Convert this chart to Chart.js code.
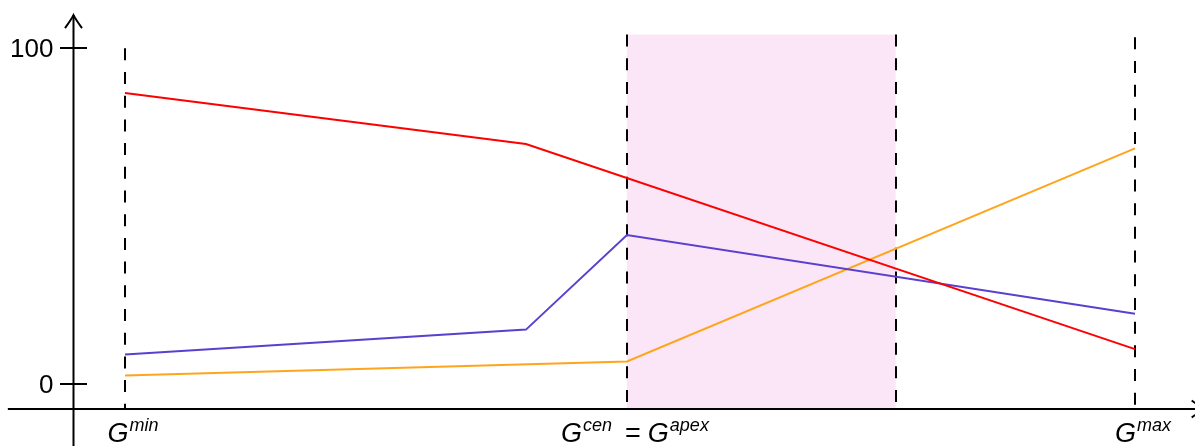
<!DOCTYPE html>
<html>
<head>
<meta charset="utf-8">
<script src="https://cdn.jsdelivr.net/npm/chart.js@4/dist/chart.umd.min.js"></script>
<style>
  html, body { margin: 0; padding: 0; background: #ffffff; }
  #wrap { width: 1195px; height: 446px; }
</style>
</head>
<body>
<div id="wrap"><canvas id="c" width="1195" height="446"></canvas></div>
<script>
// Series breakpoints (x in units of the G range, Gmin = 0, Gmax = 1) and values
const redX    = [0, 0.397, 1];
const redY    = [86.7, 71.5, 10.4];
const purpleX = [0, 0.397, 0.497, 1];
const purpleY = [8.8, 16.2, 44.4, 20.9];
const orangeX = [0, 0.497, 1];
const orangeY = [2.5, 6.7, 70.2];

// Reference positions along the G axis
const guideX    = [0, 0.497, 0.763, 1];
const guideTop  = [100, 104.1, 104.1, 103.3];
const bandRange = [0.497, 0.763];
const bandTop   = 104.1;

// Axis ticks and category labels
const yTickValues = [0, 100];
const yTickLabels = ['0', '100'];
const xLabelPos   = [0, 0.497, 1];
const xLabelParts = [
  [['G', 'min']],
  [['G', 'cen'], ['=', null], ['G', 'apex']],
  [['G', 'max']]
];

// Where the axes cross and how far their arrows reach
const yAxisAtX = -0.051;
const xAxisAtY = -7.45;
const yAxisTop = 109.9;
const xAxisLeft = -0.116;
const xAxisRight = 1.069;

const pts = (xs, ys) => xs.map((v, i) => ({ x: v, y: ys[i] }));

function arrowHead(ctx, tx, ty, dir) {
  // dir: 'up' or 'right'; curved head
  ctx.beginPath();
  if (dir === 'up') {
    ctx.moveTo(tx - 8.5, ty + 13);
    ctx.quadraticCurveTo(tx - 2, ty + 4, tx, ty);
    ctx.quadraticCurveTo(tx + 2, ty + 4, tx + 8.5, ty + 13);
  } else {
    ctx.moveTo(tx - 13, ty - 8.5);
    ctx.quadraticCurveTo(tx - 4, ty - 2, tx, ty);
    ctx.quadraticCurveTo(tx - 4, ty + 2, tx - 13, ty + 8.5);
  }
  ctx.stroke();
}

const decor = {
  id: 'decor',
  beforeDatasetsDraw(chart) {
    const { ctx, scales: { x, y } } = chart;
    const base = y.getPixelForValue(xAxisAtY);
    ctx.save();
    // shaded band
    const bx0 = x.getPixelForValue(bandRange[0]);
    const bx1 = x.getPixelForValue(bandRange[1]);
    const by0 = y.getPixelForValue(bandTop);
    ctx.fillStyle = '#fae6f7';
    ctx.fillRect(bx0, by0, bx1 - bx0, base - by0);
    // dashed guides
    ctx.strokeStyle = '#000000';
    ctx.lineWidth = 2;
    ctx.setLineDash([12, 11.7]);
    guideX.forEach((g, i) => {
      const px = Math.round(x.getPixelForValue(g));
      ctx.beginPath();
      ctx.moveTo(px, y.getPixelForValue(guideTop[i]));
      ctx.lineTo(px, base);
      ctx.stroke();
    });
    ctx.restore();
  },
  afterDatasetsDraw(chart) {
    const { ctx, scales: { x, y } } = chart;
    const ax = Math.round(x.getPixelForValue(yAxisAtX)) + 0.5;
    const ay = Math.round(y.getPixelForValue(xAxisAtY));
    ctx.save();
    ctx.strokeStyle = '#000000';
    ctx.fillStyle = '#000000';
    ctx.lineWidth = 2;
    ctx.setLineDash([]);
    ctx.lineCap = 'butt';

    // y axis
    const yTop = y.getPixelForValue(yAxisTop);
    ctx.beginPath();
    ctx.moveTo(ax, chart.height);
    ctx.lineTo(ax, yTop);
    ctx.stroke();
    arrowHead(ctx, ax, yTop, 'up');

    // x axis
    const xr = x.getPixelForValue(xAxisRight);
    ctx.beginPath();
    ctx.moveTo(x.getPixelForValue(xAxisLeft), ay);
    ctx.lineTo(xr, ay);
    ctx.stroke();
    arrowHead(ctx, xr, ay, 'right');

    // y ticks and labels
    ctx.font = '26px "Liberation Sans", Arial, sans-serif';
    ctx.textAlign = 'right';
    ctx.textBaseline = 'middle';
    yTickValues.forEach((v, i) => {
      const py = Math.round(y.getPixelForValue(v));
      ctx.beginPath();
      ctx.moveTo(ax - 13.5, py);
      ctx.lineTo(ax + 13.5, py);
      ctx.stroke();
      ctx.fillText(yTickLabels[i], ax - 20, py + 2);
    });

    // category labels with superscripts
    const mainFont = 'italic 27px "Liberation Sans", Arial, sans-serif';
    const eqFont = '27px "Liberation Sans", Arial, sans-serif';
    const supFont = 'italic 18px "Liberation Sans", Arial, sans-serif';
    ctx.textAlign = 'left';
    ctx.textBaseline = 'alphabetic';
    const baseline = ay + 33;
    xLabelParts.forEach((parts, li) => {
      const pieces = [];
      parts.forEach(([main, sup]) => {
        if (main === '=') {
          pieces.push({ t: '=', f: eqFont, dy: 0, padL: 13, padR: 7 });
        } else {
          pieces.push({ t: main, f: mainFont, dy: 0, padL: 0, padR: 0 });
          if (sup) pieces.push({ t: sup, f: supFont, dy: -11, padL: 1, padR: 0 });
        }
      });
      let total = 0;
      pieces.forEach(p => { ctx.font = p.f; p.w = ctx.measureText(p.t).width; total += p.padL + p.w + p.padR; });
      let cx = x.getPixelForValue(xLabelPos[li]) + 8 - total / 2;
      pieces.forEach(p => {
        ctx.font = p.f;
        cx += p.padL;
        ctx.fillText(p.t, cx, baseline + p.dy);
        cx += p.w + p.padR;
      });
    });
    ctx.restore();
  }
};

const lineStyle = { borderWidth: 2, pointRadius: 0, tension: 0, fill: false };

new Chart(document.getElementById('c'), {
  type: 'line',
  data: {
    datasets: [
      Object.assign({ data: pts(redX, redY), borderColor: '#ff0000' }, lineStyle),
      Object.assign({ data: pts(purpleX, purpleY), borderColor: '#5b3fcf' }, lineStyle),
      Object.assign({ data: pts(orangeX, orangeY), borderColor: '#ffa51c' }, lineStyle)
    ]
  },
  options: {
    responsive: false,
    devicePixelRatio: 1,
    animation: false,
    layout: { padding: 0 },
    plugins: { legend: { display: false }, tooltip: { enabled: false } },
    scales: {
      x: { type: 'linear', display: false, min: -0.12376, max: 1.05941 },
      y: { type: 'linear', display: false, min: -18.47, max: 114.39 }
    }
  },
  plugins: [decor]
});
</script>
</body>
</html>
